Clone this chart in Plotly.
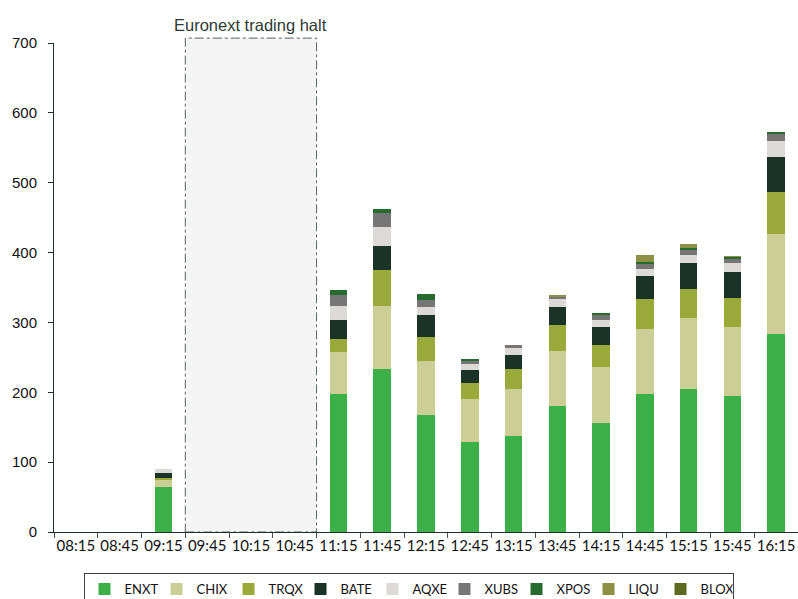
import plotly.graph_objects as go

categories = ["08:15", "08:45", "09:15", "09:45", "10:15", "10:45", "11:15", "11:45",
              "12:15", "12:45", "13:15", "13:45", "14:15", "14:45", "15:15", "15:45", "16:15"]

ENXT = [0, 0, 64, 0, 0, 0, 198, 234, 168, 129, 138, 180, 156, 198, 205, 195, 283]
CHIX = [0, 0, 10, 0, 0, 0, 59, 90, 77, 61, 66, 79, 80, 92, 101, 99, 143]
TRQX = [0, 0, 4, 0, 0, 0, 20, 51, 34, 24, 29, 37, 31, 44, 42, 41, 60]
BATE = [0, 0, 7, 0, 0, 0, 27, 34, 31, 18, 21, 26, 27, 33, 37, 37, 51]
AQXE = [0, 0, 5, 0, 0, 0, 20, 28, 12, 8, 9, 11, 9, 10, 11, 13, 23]
XUBS = [0, 0, 0, 0, 0, 0, 15, 20, 10, 5, 4, 4, 8, 7, 7, 7, 10]
XPOS = [0, 0, 0, 0, 0, 0, 7, 5, 8, 2, 0, 0, 2, 3, 3, 2, 2]
LIQU = [0, 0, 0, 0, 0, 0, 0, 0, 0, 0, 0, 2, 0, 10, 6, 1, 0]
BLOX = [0] * 17

series_names = ["ENXT", "CHIX", "TRQX", "BATE", "AQXE", "XUBS", "XPOS", "LIQU", "BLOX"]
series_values = [ENXT, CHIX, TRQX, BATE, AQXE, XUBS, XPOS, LIQU, BLOX]
series_colors = ["#3daf49", "#cbcf95", "#9aaa3a", "#1b3327", "#dcd9d6",
                 "#767676", "#286b2e", "#8e9145", "#5c6a22"]

y_ticks = [0, 100, 200, 300, 400, 500, 600, 700]
halt_label = "Euronext trading halt"
halt_first = "09:45"
halt_last = "10:45"
halt_top = 707

fig = go.Figure()
for name, vals, col in zip(series_names, series_values, series_colors):
    fig.add_trace(go.Bar(x=categories, y=vals, name=name,
                         marker=dict(color=col, line=dict(width=0))))

n = len(categories)
x0 = categories.index(halt_first) / n
x1 = (categories.index(halt_last) + 1) / n
fig.add_shape(type="rect", xref="paper", yref="paper",
              x0=x0, x1=x1, y0=0, y1=halt_top / y_ticks[-1],
              fillcolor="#f4f4f4", layer="below",
              line=dict(color="#56625c", width=1, dash="dashdot"))
fig.add_annotation(xref="paper", yref="paper", x=(x0 + x1) / 2, y=halt_top / y_ticks[-1],
                   xanchor="center", yanchor="bottom", showarrow=False, text=halt_label,
                   yshift=2,
                   font=dict(family="Liberation Sans, Arial", size=16.5, color="#2c3a33"))

axis_col = "#1e3328"
fig.update_layout(
    barmode="stack",
    bargap=0.6,
    width=798, height=599,
    margin=dict(l=54, r=0, t=43, b=67, autoexpand=False),
    paper_bgcolor="white", plot_bgcolor="white",
    showlegend=True,
    legend=dict(orientation="h", x=0.4765, xanchor="center", y=-0.084, yanchor="top",
                bordercolor="#404040", borderwidth=1,
                font=dict(family="Lato", size=13, color="#111111"),
                entrywidth=27, traceorder="normal", itemclick=False),
    xaxis=dict(type="category", showline=True, linecolor=axis_col, linewidth=1,
               ticks="outside", tickson="boundaries", ticklen=5, tickcolor="#45524b",
               tickangle=0,
               showgrid=False, tickfont=dict(family="Lato", size=15, color="#111111")),
    yaxis=dict(range=[0, 700], tickvals=y_ticks, showline=True, linecolor=axis_col,
               linewidth=1, ticks="outside", ticklen=5, tickcolor=axis_col,
               showgrid=False, zeroline=False, ticklabelstandoff=8,
               tickfont=dict(family="Liberation Sans, Arial", size=15, color="#111111")),
)

fig.write_html("out.html", config={"displayModeBar": False},
               post_script="document.body.style.margin='0';")
